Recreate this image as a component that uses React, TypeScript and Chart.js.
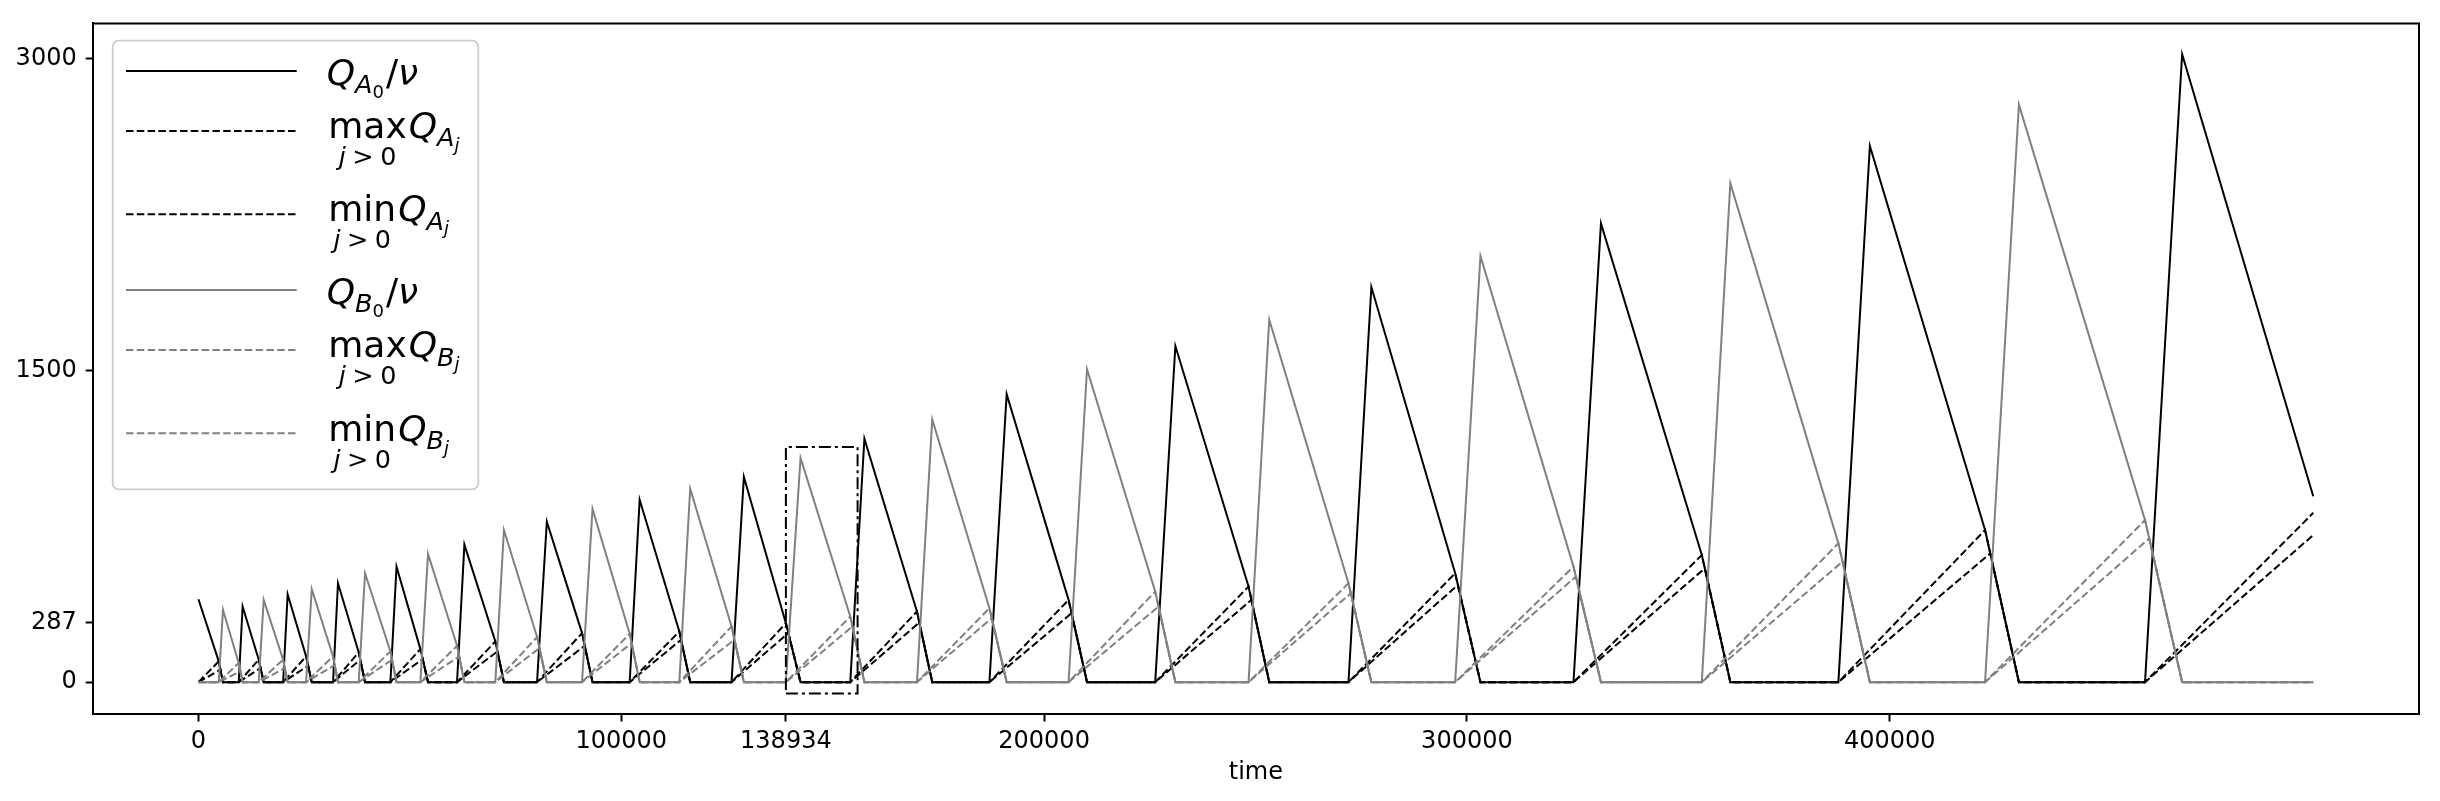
import React, { useEffect, useRef } from "react";
import { Chart, registerables } from "chart.js";

Chart.register(...registerables);

// ---------- data ----------
// Q_A0 / nu  (black solid)
const a0Time = [0, 4800, 5800, 9530, 10450, 14260, 15440, 20030, 21100, 25460, 26800, 31840, 33000, 37910, 39400, 45400, 46850, 52490, 54300, 61160, 62900, 70220, 72250, 80080, 82400, 90720, 93200, 101990, 104350, 113730, 116300, 126080, 129000, 138934, 142400, 154160, 157500, 169930, 173550, 187070, 191150, 205790, 210150, 226280, 231050, 248350, 253250, 271990, 277400, 297220, 303200, 325200, 331700, 355550, 362300, 387850, 395300, 422540, 430550, 460370, 469150, 500160];
const a0Value = [399, 100, 0, 0, 364, 108, 0, 0, 423, 124, 0, 0, 476, 143, 0, 0, 556, 159, 0, 0, 662, 196, 0, 0, 772, 236, 0, 0, 878, 244, 0, 0, 988, 284, 0, 0, 1172, 340, 0, 0, 1386, 396, 0, 0, 1618, 460, 0, 0, 1902, 524, 0, 0, 2208, 612, 0, 0, 2581, 732, 0, 0, 3023, 895];

// max_{j>0} Q_Aj  (black dashed)
const maxATime = [0, 4800, 5800, 9530, 14260, 15440, 20030, 25460, 26800, 31840, 37910, 39400, 45400, 52490, 54300, 61160, 70220, 72250, 80080, 90720, 93200, 101990, 113730, 116300, 126080, 138934, 142400, 154160, 169930, 173550, 187070, 205790, 210150, 226280, 248350, 253250, 271990, 297220, 303200, 325200, 355550, 362300, 387850, 422540, 430550, 460370, 500160];
const maxAValue = [0, 100, 0, 0, 108, 0, 0, 124, 0, 0, 143, 0, 0, 159, 0, 0, 196, 0, 0, 236, 0, 0, 244, 0, 0, 284, 0, 0, 340, 0, 0, 396, 0, 0, 460, 0, 0, 524, 0, 0, 612, 0, 0, 732, 0, 0, 815];

// min_{j>0} Q_Aj  (black dashed)
const minATime = [0, 5200, 5800, 9530, 14700, 15440, 20030, 25950, 26800, 31840, 38280, 39400, 45400, 53040, 54300, 61160, 70720, 72250, 80080, 91360, 93200, 101990, 114150, 116300, 126080, 139520, 142400, 154160, 170490, 173550, 187070, 206500, 210150, 226280, 249030, 253250, 271990, 297860, 303200, 325200, 356260, 362300, 387850, 423770, 430550, 460370, 500160];
const minAValue = [0, 60, 0, 0, 68, 0, 0, 79, 0, 0, 108, 0, 0, 111, 0, 0, 148, 0, 0, 175, 0, 0, 204, 0, 0, 236, 0, 0, 287, 0, 0, 332, 0, 0, 396, 0, 0, 468, 0, 0, 548, 0, 0, 620, 0, 0, 708];

// Q_B0 / nu  (grey solid)
const b0Time = [0, 4800, 5800, 9530, 10450, 14260, 15440, 20030, 21100, 25460, 26800, 31840, 33000, 37910, 39400, 45400, 46850, 52490, 54300, 61160, 62900, 70220, 72250, 80080, 82400, 90720, 93200, 101990, 104350, 113730, 116300, 126080, 129000, 138934, 142400, 154160, 157500, 169930, 173550, 187070, 191150, 205790, 210150, 226280, 231050, 248350, 253250, 271990, 277400, 297220, 303200, 325200, 331700, 355550, 362300, 387850, 395300, 422540, 430550, 460370, 469150, 500160];
const b0Value = [0, 0, 348, 92, 0, 0, 396, 108, 0, 0, 447, 124, 0, 0, 524, 148, 0, 0, 617, 175, 0, 0, 732, 217, 0, 0, 834, 233, 0, 0, 931, 268, 0, 0, 1079, 316, 0, 0, 1265, 356, 0, 0, 1506, 436, 0, 0, 1745, 476, 0, 0, 2051, 556, 0, 0, 2402, 668, 0, 0, 2780, 780, 0, 0];

// max_{j>0} Q_Bj  (grey dashed)
const maxBTime = [0, 4800, 9530, 10450, 14260, 20030, 21100, 25460, 31840, 33000, 37910, 45400, 46850, 52490, 61160, 62900, 70220, 80080, 82400, 90720, 101990, 104350, 113730, 126080, 129000, 138934, 154160, 157500, 169930, 187070, 191150, 205790, 226280, 231050, 248350, 271990, 277400, 297220, 325200, 331700, 355550, 387850, 395300, 422540, 460370, 469150, 500160];
const maxBValue = [0, 0, 92, 0, 0, 108, 0, 0, 124, 0, 0, 148, 0, 0, 175, 0, 0, 217, 0, 0, 233, 0, 0, 268, 0, 0, 316, 0, 0, 356, 0, 0, 436, 0, 0, 476, 0, 0, 556, 0, 0, 668, 0, 0, 780, 0, 0];

// min_{j>0} Q_Bj  (grey dashed)
const minBTime = [0, 4800, 9930, 10450, 14260, 20430, 21100, 25460, 32230, 33000, 37910, 45790, 46850, 52490, 61670, 62900, 70220, 80650, 82400, 90720, 102450, 104350, 113730, 126780, 129000, 138934, 154670, 157500, 169930, 187620, 191150, 205790, 227070, 231050, 248350, 272540, 277400, 297220, 325760, 331700, 355550, 388830, 395300, 422540, 461360, 469150, 500160];
const minBValue = [0, 0, 52, 0, 0, 68, 0, 0, 82, 0, 0, 108, 0, 0, 124, 0, 0, 164, 0, 0, 188, 0, 0, 204, 0, 0, 268, 0, 0, 308, 0, 0, 364, 0, 0, 428, 0, 0, 508, 0, 0, 580, 0, 0, 692, 0, 0];

// dash-dot highlight box
const boxTime = [138934, 155890];
const boxValue = [-55, 1132];

// axes
const xTicks = [0, 100000, 138934, 200000, 300000, 400000];
const yTicks = [0, 287, 1500, 3000];
const xRange = [-25008, 525168];
const yRange = [-151, 3171];

// ---------- helpers ----------
const toPoints = (t: number[], v: number[]) => t.map((x, i) => ({ x, y: v[i] }));

const FONT = '"DejaVu Sans", "Liberation Sans", sans-serif';
const BLACK = "#000000";
const GREY = "#808080";
const DASH = [7.5, 3.3];

const F_MAIN = 36;
const F_SUB = 25.5;
const F_SUB2 = 18;

function txt(ctx: CanvasRenderingContext2D, s: string, x: number, y: number, size: number, italic: boolean): number {
  ctx.font = `${italic ? "italic " : ""}${size}px ${FONT}`;
  ctx.fillText(s, x, y);
  return ctx.measureText(s).width;
}

// Q_{X_sub}
function drawQ(ctx: CanvasRenderingContext2D, x: number, b: number, letter: string, sub: string, subItalic: boolean, nu: boolean) {
  let cx = x;
  cx += txt(ctx, "Q", cx, b, F_MAIN, true);
  cx += txt(ctx, letter, cx, b + 8.5, F_SUB, true);
  cx += txt(ctx, sub, cx, b + 13, F_SUB2, subItalic);
  if (nu) {
    cx += 2;
    cx += txt(ctx, "/", cx, b, F_MAIN, false);
    txt(ctx, "\u03BD", cx, b, F_MAIN, true);
  }
}

function drawOp(ctx: CanvasRenderingContext2D, x: number, b: number, op: string, letter: string) {
  const w = txt(ctx, op, x, b, F_MAIN, false);
  // "j > 0" centred below
  ctx.font = `italic ${F_SUB}px ${FONT}`;
  const wj = ctx.measureText("j").width;
  ctx.font = `${F_SUB}px ${FONT}`;
  const wg = ctx.measureText(">").width;
  const w0 = ctx.measureText("0").width;
  const gap = 6.5;
  const total = wj + gap + wg + gap + w0;
  let sx = x + w / 2 - total / 2;
  sx += txt(ctx, "j", sx, b + 27, F_SUB, true) + gap;
  sx += txt(ctx, ">", sx, b + 27, F_SUB, false) + gap;
  txt(ctx, "0", sx, b + 27, F_SUB, false);
  drawQ(ctx, x + w + 2, b, letter, "j", true, false);
}

const framePlugin = {
  id: "frameAndLegend",
  afterDraw(chart: any) {
    const ctx: CanvasRenderingContext2D = chart.ctx;
    const a = chart.chartArea;
    ctx.save();
    // top & right spines
    ctx.strokeStyle = BLACK;
    ctx.lineWidth = 2;
    ctx.setLineDash([]);
    ctx.beginPath();
    ctx.moveTo(a.left, a.top);
    ctx.lineTo(a.right, a.top);
    ctx.lineTo(a.right, a.bottom);
    ctx.stroke();

    // x axis title
    ctx.fillStyle = BLACK;
    ctx.font = `24px ${FONT}`;
    ctx.textAlign = "center";
    ctx.textBaseline = "middle";
    ctx.fillText("time", (a.left + a.right) / 2, 773);

    // legend frame
    ctx.textAlign = "left";
    ctx.textBaseline = "alphabetic";
    const lx = 112.7, ly = 40.7, lw = 365.6, lh = 448.6, r = 6;
    ctx.beginPath();
    ctx.moveTo(lx + r, ly);
    ctx.lineTo(lx + lw - r, ly);
    ctx.arcTo(lx + lw, ly, lx + lw, ly + r, r);
    ctx.lineTo(lx + lw, ly + lh - r);
    ctx.arcTo(lx + lw, ly + lh, lx + lw - r, ly + lh, r);
    ctx.lineTo(lx + r, ly + lh);
    ctx.arcTo(lx, ly + lh, lx, ly + lh - r, r);
    ctx.lineTo(lx, ly + r);
    ctx.arcTo(lx, ly, lx + r, ly, r);
    ctx.closePath();
    ctx.fillStyle = "rgba(255,255,255,0.8)";
    ctx.fill();
    ctx.strokeStyle = "#cccccc";
    ctx.lineWidth = 1.8;
    ctx.stroke();

    // handles
    const rows = [
      { y: 71, c: BLACK, d: [] as number[] },
      { y: 131, c: BLACK, d: DASH },
      { y: 214.3, c: BLACK, d: DASH },
      { y: 290, c: GREY, d: [] as number[] },
      { y: 350, c: GREY, d: DASH },
      { y: 433.3, c: GREY, d: DASH },
    ];
    ctx.lineWidth = 2;
    rows.forEach((row) => {
      ctx.strokeStyle = row.c;
      ctx.setLineDash(row.d);
      ctx.beginPath();
      ctx.moveTo(126, row.y);
      ctx.lineTo(296.7, row.y);
      ctx.stroke();
    });
    ctx.setLineDash([]);

    // labels
    ctx.fillStyle = BLACK;
    drawQ(ctx, 326.7, 84.5, "A", "0", false, true);
    drawOp(ctx, 328.3, 137.8, "max", "A");
    drawOp(ctx, 328.3, 221.2, "min", "A");
    drawQ(ctx, 326.7, 303.5, "B", "0", false, true);
    drawOp(ctx, 328.3, 357.2, "max", "B");
    drawOp(ctx, 328.3, 440.5, "min", "B");
    ctx.restore();
  },
};

export default function App() {
  const ref = useRef<HTMLCanvasElement | null>(null);

  useEffect(() => {
    document.body.style.margin = "0";
    const canvas = ref.current;
    if (!canvas) return;

    const line = (label: string, t: number[], v: number[], color: string, dash: number[], order: number) => ({
      label,
      data: toPoints(t, v),
      borderColor: color,
      backgroundColor: color,
      borderWidth: 2,
      borderDash: dash,
      pointRadius: 0,
      fill: false,
      tension: 0,
      order,
    });

    const boxPts = [
      { x: boxTime[0], y: boxValue[0] },
      { x: boxTime[1], y: boxValue[0] },
      { x: boxTime[1], y: boxValue[1] },
      { x: boxTime[0], y: boxValue[1] },
      { x: boxTime[0], y: boxValue[0] },
    ];

    const chart = new Chart(canvas, {
      type: "line",
      data: {
        datasets: [
          line("QA0", a0Time, a0Value, BLACK, [], 7),
          line("maxQA", maxATime, maxAValue, BLACK, DASH, 6),
          line("minQA", minATime, minAValue, BLACK, DASH, 5),
          line("QB0", b0Time, b0Value, GREY, [], 4),
          line("maxQB", maxBTime, maxBValue, GREY, DASH, 3),
          line("minQB", minBTime, minBValue, GREY, DASH, 2),
          {
            label: "box",
            data: boxPts,
            borderColor: BLACK,
            borderWidth: 2,
            borderDash: [12, 4, 3, 4],
            pointRadius: 0,
            fill: false,
            tension: 0,
            order: 1,
          } as any,
        ],
      },
      options: {
        animation: false,
        responsive: false,
        devicePixelRatio: 1,
        parsing: false as any,
        normalized: true,
        layout: { padding: { top: 21.5, right: 21, left: 0, bottom: 0 } },
        plugins: { legend: { display: false }, tooltip: { enabled: false } },
        scales: {
          x: {
            type: "linear",
            min: xRange[0],
            max: xRange[1],
            afterBuildTicks: (s: any) => {
              s.ticks = xTicks.map((value) => ({ value }));
            },
            afterFit: (s: any) => {
              s.height = 87.5;
            },
            ticks: {
              callback: (v: any) => String(v),
              font: { family: FONT, size: 24 },
              color: BLACK,
              padding: 6,
              maxRotation: 0,
              autoSkip: false,
            },
            grid: { display: true, drawOnChartArea: false, drawTicks: true, tickLength: 8, tickWidth: 2, tickColor: BLACK },
            border: { display: true, color: BLACK, width: 2 },
          },
          y: {
            type: "linear",
            min: yRange[0],
            max: yRange[1],
            afterBuildTicks: (s: any) => {
              s.ticks = yTicks.map((value) => ({ value }));
            },
            afterFit: (s: any) => {
              s.width = 92.7;
            },
            ticks: {
              callback: (v: any) => String(v),
              font: { family: FONT, size: 24 },
              color: BLACK,
              padding: 9,
              autoSkip: false,
            },
            grid: { display: true, drawOnChartArea: false, drawTicks: true, tickLength: 7, tickWidth: 2, tickColor: BLACK },
            border: { display: true, color: BLACK, width: 2 },
          },
        },
      } as any,
      plugins: [framePlugin],
    });

    return () => chart.destroy();
  }, []);

  return <canvas ref={ref} width={2440} height={801} style={{ display: "block", width: 2440, height: 801 }} />;
}
